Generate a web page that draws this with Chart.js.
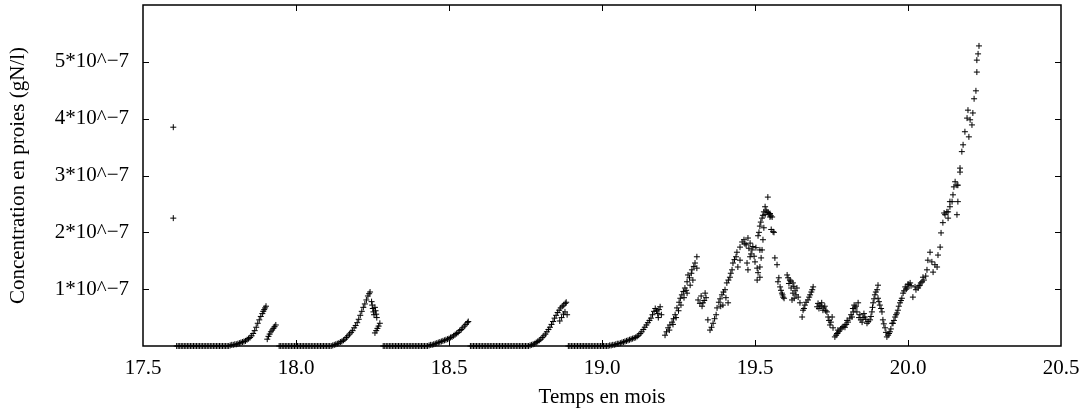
<!DOCTYPE html>
<html>
<head>
<meta charset="utf-8">
<script src="https://cdn.jsdelivr.net/npm/chart.js@4"></script>
<style>
  html, body { margin: 0; padding: 0; background: #fff; }
</style>
</head>
<body>
<canvas id="myChart" width="1083" height="415"></canvas>
<script>
// temps en mois ; concentration en unites de 1e-7 gN/l
const xTicks = [17.5, 18, 18.5, 19, 19.5, 20, 20.5];
const yTicks = [1, 2, 3, 4, 5];

const startPoints = [[17.599, 3.85], [17.599, 2.25]];

// plateaux at zero
const flat1 = [17.61,17.615,17.62,17.625,17.63,17.635,17.64,17.645,17.65,17.655,17.66,17.665,17.67,17.675,17.68,17.685,17.69,17.695,17.70,17.705,17.71,17.715,17.72,17.725,17.73,17.735,17.74,17.745,17.75,17.755,17.76,17.765,17.77,17.775,17.78];
const flat2 = [17.945,17.95,17.955,17.96,17.965,17.97,17.975,17.98,17.985,17.99,17.995,18.00,18.005,18.01,18.015,18.02,18.025,18.03,18.035,18.04,18.045,18.05,18.055,18.06,18.065,18.07,18.075,18.08,18.085,18.09,18.095,18.10,18.105,18.11,18.115];
const flat3 = [18.285,18.29,18.295,18.30,18.305,18.31,18.315,18.32,18.325,18.33,18.335,18.34,18.345,18.35,18.355,18.36,18.365,18.37,18.375,18.38,18.385,18.39,18.395,18.40,18.405,18.41,18.415,18.42,18.425,18.43];
const flat4 = [18.57,18.575,18.58,18.585,18.59,18.595,18.60,18.605,18.61,18.615,18.62,18.625,18.63,18.635,18.64,18.645,18.65,18.655,18.66,18.665,18.67,18.675,18.68,18.685,18.69,18.695,18.70,18.705,18.71,18.715,18.72,18.725,18.73,18.735,18.74,18.745,18.75,18.755,18.76];
const flat5 = [18.89,18.895,18.90,18.905,18.91,18.915,18.92,18.925,18.93,18.935,18.94,18.945,18.95,18.955,18.96,18.965,18.97,18.975,18.98,18.985,18.99,18.995,19.00,19.005,19.01,19.015,19.02];

const rise1 = [[17.785,0.01],[17.79,0.02],[17.795,0.02],[17.80,0.03],[17.805,0.03],[17.81,0.04],[17.815,0.05],[17.82,0.06],[17.825,0.07],[17.83,0.08],[17.835,0.09],[17.84,0.11],[17.845,0.13],[17.85,0.15],[17.855,0.18],[17.86,0.22],[17.865,0.27],[17.87,0.33],[17.875,0.40],[17.88,0.46],[17.885,0.52],[17.89,0.57],[17.893,0.61],[17.896,0.64],[17.899,0.67],[17.902,0.70]];
const tail1 = [[17.906,0.12],[17.910,0.17],[17.914,0.21],[17.918,0.25],[17.922,0.28],[17.926,0.31],[17.930,0.34],[17.934,0.37]];

const rise2 = [[18.12,0.01],[18.125,0.02],[18.13,0.03],[18.135,0.04],[18.14,0.05],[18.145,0.07],[18.15,0.08],[18.155,0.10],[18.16,0.12],[18.165,0.15],[18.17,0.18],[18.175,0.21],[18.18,0.24],[18.185,0.27],[18.19,0.32],[18.195,0.36],[18.20,0.41],[18.205,0.47],[18.21,0.54],[18.215,0.61],[18.22,0.68],[18.225,0.74],[18.23,0.81],[18.235,0.88],[18.239,0.92],[18.242,0.95]];
const tail2 = [[18.247,0.78],[18.249,0.72],[18.251,0.66],[18.253,0.60],[18.255,0.55],[18.258,0.68],[18.260,0.62],[18.262,0.56],[18.264,0.50],[18.258,0.23],[18.262,0.27],[18.266,0.31],[18.270,0.35],[18.274,0.40]];

const rise3 = [[18.435,0.01],[18.44,0.02],[18.445,0.02],[18.45,0.03],[18.455,0.04],[18.46,0.05],[18.465,0.06],[18.47,0.07],[18.475,0.08],[18.48,0.09],[18.485,0.10],[18.49,0.11],[18.495,0.12],[18.50,0.13],[18.505,0.15],[18.51,0.16],[18.515,0.18],[18.52,0.20],[18.525,0.22],[18.53,0.24],[18.535,0.27],[18.54,0.29],[18.545,0.32],[18.55,0.35],[18.555,0.38],[18.56,0.41],[18.563,0.43]];

const rise4 = [[18.765,0.01],[18.77,0.02],[18.775,0.03],[18.78,0.04],[18.785,0.06],[18.79,0.08],[18.795,0.10],[18.80,0.12],[18.805,0.15],[18.81,0.18],[18.815,0.21],[18.82,0.25],[18.825,0.29],[18.83,0.33],[18.835,0.38],[18.84,0.43],[18.845,0.49],[18.85,0.54],[18.855,0.59],[18.86,0.63],[18.865,0.67],[18.87,0.70],[18.875,0.72],[18.88,0.75],[18.883,0.77],[18.862,0.44],[18.868,0.50],[18.874,0.56],[18.879,0.60],[18.886,0.55]];

const rise5 = [[19.025,0.01],[19.03,0.01],[19.035,0.02],[19.04,0.02],[19.045,0.03],[19.05,0.04],[19.055,0.04],[19.06,0.05],[19.065,0.06],[19.07,0.07],[19.075,0.08],[19.08,0.09],[19.085,0.10],[19.09,0.11],[19.095,0.12],[19.10,0.13],[19.105,0.14],[19.11,0.15],[19.115,0.17],[19.12,0.19],[19.125,0.22],[19.13,0.25],[19.135,0.29],[19.14,0.33],[19.145,0.37],[19.15,0.41],[19.155,0.45],[19.16,0.49],[19.165,0.55],[19.17,0.61],[19.174,0.66],[19.178,0.62],[19.182,0.57],[19.186,0.64],[19.19,0.69],[19.194,0.55],[19.184,0.50]];

const streaks = [[19.206,0.19],[19.211,0.25],[19.216,0.32],[19.222,0.37],[19.229,0.42],[19.234,0.48],[19.239,0.55],[19.245,0.67],[19.252,0.77],[19.256,0.84],[19.261,0.90],[19.266,0.96],[19.271,1.02],[19.278,1.13],[19.281,1.25],[19.294,1.34],[19.300,1.40],[19.304,1.46],[19.310,1.57],[19.278,0.93],[19.288,1.07],[19.297,1.16],[19.310,1.37],[19.220,0.28],[19.232,0.38],[19.242,0.50],[19.250,0.62],[19.258,0.72],[19.268,0.85],[19.275,0.98],[19.286,1.20],[19.292,1.28],
  [19.314,0.81],[19.324,0.88],[19.330,0.76],[19.337,0.93],[19.340,0.85],[19.327,0.70],[19.320,0.75],[19.334,0.80],
  [19.346,0.46],[19.353,0.28],[19.358,0.33],[19.363,0.40],[19.368,0.48],[19.373,0.55],[19.376,0.67],[19.382,0.77],[19.386,0.83],[19.388,0.70],[19.392,0.90],[19.395,0.72],[19.397,0.95],[19.402,0.99],[19.405,0.85],[19.408,1.11],[19.412,0.76],[19.413,1.16],[19.418,1.21],[19.421,1.28],[19.425,1.34],[19.428,1.46],[19.433,1.52],[19.438,1.57],[19.441,1.65],[19.444,1.39],[19.451,1.74],[19.451,1.51],[19.458,1.83]];

const peak = [[19.464,1.87],[19.471,1.78],[19.477,1.90],[19.484,1.81],[19.490,1.69],[19.497,1.58],[19.503,1.73],[19.510,1.94],[19.516,2.11],[19.523,2.25],[19.529,2.36],[19.536,2.39],[19.546,2.32],[19.552,2.29],
  [19.474,1.46],[19.477,1.34],[19.484,1.57],[19.500,1.48],[19.507,1.37],[19.507,1.16],[19.510,1.29],[19.516,1.69],
  [19.542,2.62],[19.539,2.36],[19.533,2.31],[19.549,2.27],[19.556,2.27],[19.529,2.08],[19.559,2.01],[19.526,1.87],[19.523,1.69],[19.520,1.55],[19.516,1.39],[19.516,1.21],
  [19.467,1.80],[19.480,1.72],[19.487,1.62],[19.493,1.75],[19.513,2.00],[19.519,2.18],[19.526,2.30],[19.533,2.45],[19.543,2.35],[19.549,2.33],[19.553,2.05],[19.562,2.00]];

const decline = [[19.565,1.55],[19.572,1.43],[19.575,1.13],[19.582,1.04],[19.588,0.93],[19.592,0.86],[19.605,1.25],[19.614,1.16],[19.624,1.11],[19.624,0.93],[19.637,1.02],[19.621,0.81],[19.641,0.86],[19.647,0.76],[19.654,0.51],[19.657,0.63],[19.663,0.72],[19.673,0.81],[19.680,0.90],[19.690,1.04],[19.703,0.69],[19.712,0.72],[19.722,0.63],[19.735,0.60],[19.739,0.51],[19.752,0.51],[19.745,0.37],[19.755,0.32],[19.761,0.16],[19.771,0.23],[19.784,0.32],[19.794,0.33],[19.804,0.42],[19.817,0.51],[19.827,0.67],[19.837,0.76],[19.843,0.55],[19.850,0.42],[19.859,0.51],[19.866,0.40],[19.876,0.46],[19.882,0.60],[19.886,0.76],[19.892,0.90],[19.899,0.99],[19.902,1.07],[19.902,0.84],[19.908,0.72],[19.915,0.60],[19.918,0.46],[19.925,0.32],[19.931,0.16],
  [19.718,0.76],[19.728,0.70],[19.771,0.28],[19.794,0.37],[19.810,0.49],[19.821,0.60],
  [19.578,1.20],[19.585,0.98],[19.590,0.90],[19.595,0.84],[19.608,1.20],[19.611,1.10],[19.617,1.14],[19.618,1.02],[19.627,1.05],[19.631,0.97],[19.634,0.90],[19.628,0.84],
  [19.660,0.66],[19.667,0.77],[19.677,0.86],[19.684,0.95],[19.687,0.99],
  [19.706,0.75],[19.709,0.66],[19.716,0.70],[19.725,0.67],[19.731,0.62],[19.742,0.45],[19.748,0.42],
  [19.765,0.19],[19.768,0.22],[19.775,0.26],[19.780,0.30],[19.788,0.34],[19.798,0.38],[19.801,0.45],
  [19.814,0.55],[19.820,0.66],[19.824,0.72],[19.830,0.70],[19.833,0.60],[19.840,0.50],[19.846,0.46],[19.853,0.50],[19.856,0.57],[19.862,0.47],
  [19.870,0.43],[19.879,0.52],[19.884,0.68],[19.889,0.83],[19.895,0.95],[19.905,0.78],[19.912,0.66],[19.921,0.39],[19.928,0.24]];

const finalRise = [[19.941,0.25],[19.935,0.19],[19.948,0.40],[19.951,0.40],[19.958,0.51],[19.964,0.58],[19.967,0.63],[19.974,0.76],[19.980,0.84],[19.984,0.93],[19.997,1.02],[20.007,1.11],[20.016,0.86],[20.023,1.04],[20.033,1.02],[20.039,1.07],[20.046,1.13],[20.049,1.21],[20.062,1.34],[20.065,1.51],[20.072,1.65],[20.078,1.48],[20.088,1.43],[20.082,1.30],[20.095,1.39],[20.098,1.60],[20.105,1.74],[20.108,1.99],[20.114,2.17],[20.118,2.34],[20.127,2.36],[20.131,2.25],[20.137,2.45],[20.144,2.54],[20.147,2.66],[20.150,2.80],[20.154,2.89],[20.163,2.83],[20.163,2.54],[20.160,2.31],[20.170,3.06],
  [19.991,1.04],[20.000,1.09],[20.010,1.06],[20.026,0.99],[20.036,1.06],[20.042,1.11],[20.052,1.16],[20.058,1.23],
  [19.938,0.22],[19.944,0.30],[19.954,0.45],[19.961,0.55],[19.970,0.70],[19.977,0.80],[19.987,0.97],[19.994,1.00],[20.003,1.08],
  [20.121,2.31],[20.131,2.36],[20.137,2.54],[20.160,2.83],[20.170,3.13],[20.176,3.42],[20.180,3.54],[20.186,3.77],[20.199,3.68],[20.193,4.01],[20.203,3.98],[20.209,3.89],[20.212,4.10],[20.196,4.15],[20.216,4.35],[20.222,4.49],[20.225,4.82],[20.225,5.03],[20.229,5.14],[20.232,5.28]];

const flats = [flat1, flat2, flat3, flat4, flat5];
const groups = [startPoints, rise1, tail1, rise2, tail2, rise3, rise4, rise5, streaks, peak, decline, finalRise];

const points = [];
flats.forEach(f => f.forEach(t => points.push({ x: t, y: 0 })));
groups.forEach(g => g.forEach(p => points.push({ x: p[0], y: p[1] })));

const font = { family: "'Liberation Serif', 'Times New Roman', serif", size: 21 };

// no automatic label overhang padding: the layout padding sets the plot box
function noPad(s) {
  s.paddingLeft = 0; s.paddingRight = 0; s.paddingTop = 0; s.paddingBottom = 0;
}

// gnuplot style frame with ticks pointing inwards on all four sides
const framePlugin = {
  id: "frame",
  afterDraw(chart) {
    const { ctx, chartArea: a, scales } = chart;
    const len = 6;
    ctx.save();
    ctx.strokeStyle = "#000";
    ctx.lineWidth = 1;
    ctx.beginPath();
    xTicks.forEach(v => {
      if (v <= scales.x.min || v >= scales.x.max) return;
      const px = Math.round(scales.x.getPixelForValue(v)) + 0.5;
      ctx.moveTo(px, a.bottom); ctx.lineTo(px, a.bottom - len);
      ctx.moveTo(px, a.top); ctx.lineTo(px, a.top + len);
    });
    yTicks.forEach(v => {
      const py = Math.round(scales.y.getPixelForValue(v)) + 0.5;
      ctx.moveTo(a.left, py); ctx.lineTo(a.left + len, py);
      ctx.moveTo(a.right, py); ctx.lineTo(a.right - len, py);
    });
    ctx.stroke();
    ctx.lineWidth = 1.5;
    ctx.strokeRect(a.left, a.top, a.right - a.left, a.bottom - a.top);
    ctx.restore();
  }
};

new Chart("myChart", {
  type: "scatter",
  data: {
    datasets: [{
      data: points,
      pointStyle: "cross",
      pointRadius: 3,
      pointBorderWidth: 1,
      borderColor: "#000",
      backgroundColor: "#000",
      showLine: false,
      clip: false,
    }],
  },
  options: {
    responsive: false,
    animation: false,
    layout: { padding: { top: 5, right: 22, left: 0, bottom: 0 } },
    plugins: { legend: { display: false }, tooltip: { enabled: false } },
    scales: {
      x: {
        type: "linear",
        min: 17.5,
        max: 20.5,
        afterBuildTicks: s => { s.ticks = xTicks.map(v => ({ value: v })); },
        afterFit: s => { s.height = 69; noPad(s); },
        ticks: { font, color: "#000", padding: 10, maxRotation: 0, autoSkip: false },
        grid: { display: false, drawTicks: false },
        border: { display: false },
        title: { display: true, text: "Temps en mois", font, color: "#000", padding: { top: 0, bottom: 5 } },
      },
      y: {
        min: 0,
        max: 6,
        afterBuildTicks: s => { s.ticks = yTicks.map(v => ({ value: v })); },
        afterFit: s => { s.width = 143; noPad(s); },
        ticks: { font, color: "#000", padding: 14, callback: v => v + "*10^\u22127" },
        grid: { display: false, drawTicks: false },
        border: { display: false },
        title: { display: true, text: "Concentration en proies (gN/l)", font, color: "#000", padding: { top: 6, bottom: 0 } },
      },
    },
  },
  plugins: [framePlugin],
});
</script>
</body>
</html>
